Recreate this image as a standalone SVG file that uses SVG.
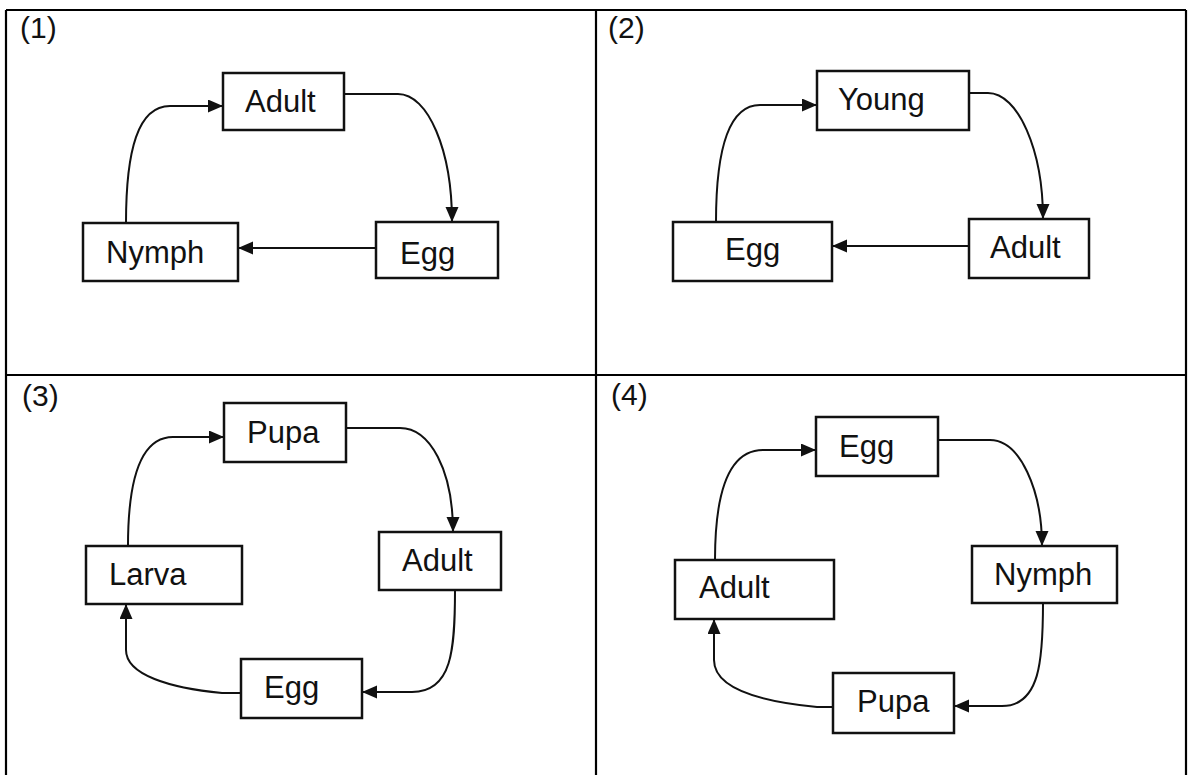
<svg xmlns="http://www.w3.org/2000/svg" width="1191" height="775" viewBox="0 0 1191 775">
<defs>
<style>
.frame{stroke:#000;stroke-width:2.2;fill:none}
.box{fill:#fff;stroke:#111;stroke-width:2.5}
.lbl{font-family:"Liberation Sans",Arial,sans-serif;font-size:31px;fill:#111}
.num{font-family:"Liberation Sans",Arial,sans-serif;font-size:30px;fill:#111}
.c{fill:none;stroke:#111;stroke-width:2}
</style>
<marker id="ah" markerUnits="userSpaceOnUse" markerWidth="16" markerHeight="14" refX="15" refY="6.5" orient="auto">
<path d="M0,0 L15,6.5 L0,13 z" fill="#111"/>
</marker>
</defs>
<rect width="1191" height="775" fill="#fff"/>
<g id="frame">
<path class="frame" d="M6,10 H1186 M6,10 V775 M1186,10 V775 M596,10 V775 M6,375 H1186"/>
<text class="num" x="20" y="38">(1)</text>
<text class="num" x="608" y="38">(2)</text>
<text class="num" x="22" y="406">(3)</text>
<text class="num" x="611" y="405">(4)</text>
</g>
<g id="connectors">
<path class="c" marker-end="url(#ah)" d="M344,94 L398,94 C428,94 452,150 452,222"/>
<path class="c" marker-end="url(#ah)" d="M376,248 L238,248"/>
<path class="c" marker-end="url(#ah)" d="M126,223 C126,150 138,106 170,106 L223,106"/>
<path class="c" marker-end="url(#ah)" d="M969,93 L988,93 C1018,93 1043,150 1043,219"/>
<path class="c" marker-end="url(#ah)" d="M969,246 L832,246"/>
<path class="c" marker-end="url(#ah)" d="M716,222 C716,150 728,105 760,105 L817,105"/>
<path class="c" marker-end="url(#ah)" d="M346,428 L400,428 C430,428 453,470 453,532"/>
<path class="c" marker-end="url(#ah)" d="M455,590 C455,650 452,692 412,692 L362,692"/>
<path class="c" marker-end="url(#ah)" d="M241,693 L222,693 C170,688 126,675 126,650 L126,604"/>
<path class="c" marker-end="url(#ah)" d="M128,546 C128,480 140,437 173,437 L224,437"/>
<path class="c" marker-end="url(#ah)" d="M938,440 L990,440 C1020,440 1042,490 1042,546"/>
<path class="c" marker-end="url(#ah)" d="M1043,603 C1043,660 1040,706 1002,706 L954,706"/>
<path class="c" marker-end="url(#ah)" d="M833,707 L817,707 C765,702 714,690 714,660 L714,619"/>
<path class="c" marker-end="url(#ah)" d="M715,560 C715,495 728,450 763,450 L816,450"/>
</g>
<g id="p1-adult"><rect class="box" x="223" y="73" width="121" height="57"/><text class="lbl" x="245" y="112">Adult</text></g>
<g id="p1-egg"><rect class="box" x="376" y="222" width="122" height="56"/><text class="lbl" x="400" y="264">Egg</text></g>
<g id="p1-nymph"><rect class="box" x="83" y="223" width="155" height="58"/><text class="lbl" x="106" y="263">Nymph</text></g>
<g id="p2-young"><rect class="box" x="817" y="71" width="152" height="59"/><text class="lbl" x="838" y="110">Young</text></g>
<g id="p2-adult"><rect class="box" x="969" y="219" width="120" height="59"/><text class="lbl" x="990" y="258">Adult</text></g>
<g id="p2-egg"><rect class="box" x="673" y="222" width="159" height="59"/><text class="lbl" x="725" y="260">Egg</text></g>
<g id="p3-pupa"><rect class="box" x="224" y="403" width="122" height="59"/><text class="lbl" x="247" y="443">Pupa</text></g>
<g id="p3-larva"><rect class="box" x="86" y="546" width="156" height="58"/><text class="lbl" x="109" y="585">Larva</text></g>
<g id="p3-adult"><rect class="box" x="379" y="532" width="122" height="58"/><text class="lbl" x="402" y="571">Adult</text></g>
<g id="p3-egg"><rect class="box" x="241" y="659" width="121" height="59"/><text class="lbl" x="264" y="698">Egg</text></g>
<g id="p4-egg"><rect class="box" x="816" y="417" width="122" height="59"/><text class="lbl" x="839" y="457">Egg</text></g>
<g id="p4-nymph"><rect class="box" x="972" y="546" width="145" height="57"/><text class="lbl" x="994" y="585">Nymph</text></g>
<g id="p4-adult"><rect class="box" x="675" y="560" width="159" height="59"/><text class="lbl" x="699" y="598">Adult</text></g>
<g id="p4-pupa"><rect class="box" x="833" y="673" width="121" height="60"/><text class="lbl" x="857" y="712">Pupa</text></g>
</svg>
